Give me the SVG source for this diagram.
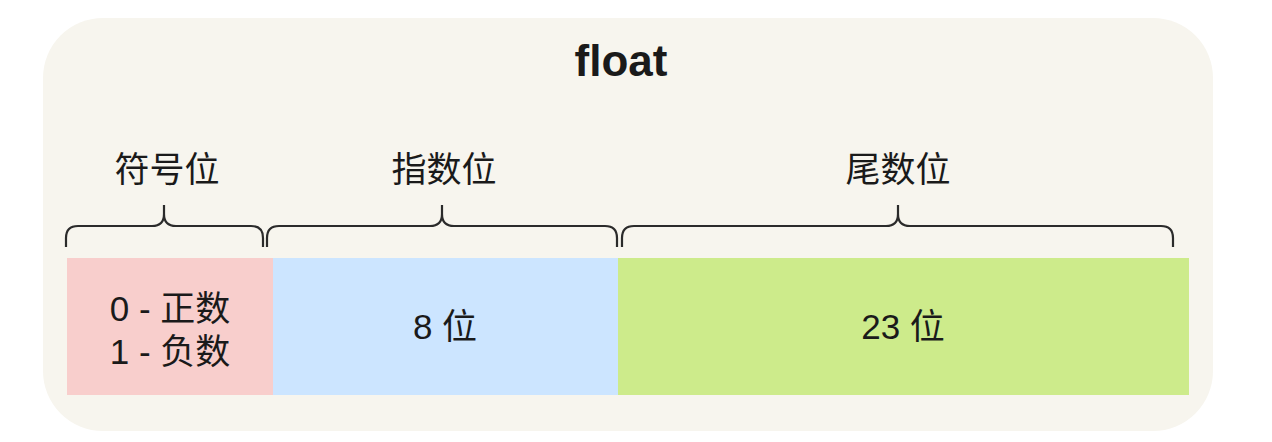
<svg xmlns="http://www.w3.org/2000/svg" width="1272" height="442" viewBox="0 0 1272 442">
<style>
.t{font-family:"Liberation Sans","Noto Sans CJK SC",sans-serif;fill:#1a1a1a;text-anchor:middle}
.lbl{font-size:35px}
.brace{fill:none;stroke:#2b2b2b;stroke-width:2.2}
</style>
<rect width="1272" height="442" fill="#ffffff"/>
<g id="container">
<rect x="43" y="18" width="1170" height="413" rx="60" ry="60" fill="#f7f5ee"/>
<text class="t" x="621" y="76" font-size="44" font-weight="bold">float</text>
</g>
<g id="label-sign"><text class="t lbl" x="167" y="182">符号位</text></g>
<g id="label-exp"><text class="t lbl" x="444" y="182">指数位</text></g>
<g id="label-mant"><text class="t lbl" x="898" y="182">尾数位</text></g>
<g id="connectors">
<path class="brace" d="M66,247 L66,238 Q66,226 78,226 L152,226 Q164,226 164,214 L164,205 M164,214 Q164,226 176,226 L251,226 Q263,226 263,238 L263,247"/>
<path class="brace" d="M267,247 L267,238 Q267,226 279,226 L430,226 Q442,226 442,214 L442,205 M442,214 Q442,226 454,226 L605,226 Q617,226 617,238 L617,247"/>
<path class="brace" d="M622,247 L622,238 Q622,226 634,226 L886,226 Q898,226 898,214 L898,205 M898,214 Q898,226 910,226 L1161,226 Q1173,226 1173,238 L1173,247"/>
</g>
<g id="box-sign">
<rect x="67" y="258" width="206" height="137" fill="#f8cecc"/>
<text class="t lbl" x="170" y="321">0 - 正数</text>
<text class="t lbl" x="170" y="364">1 - 负数</text>
</g>
<g id="box-exp">
<rect x="273" y="258" width="345" height="137" fill="#cce5ff"/>
<text class="t lbl" x="445" y="339">8 位</text>
</g>
<g id="box-mant">
<rect x="618" y="258" width="571" height="137" fill="#cdeb8b"/>
<text class="t lbl" x="903" y="339">23 位</text>
</g>
</svg>
